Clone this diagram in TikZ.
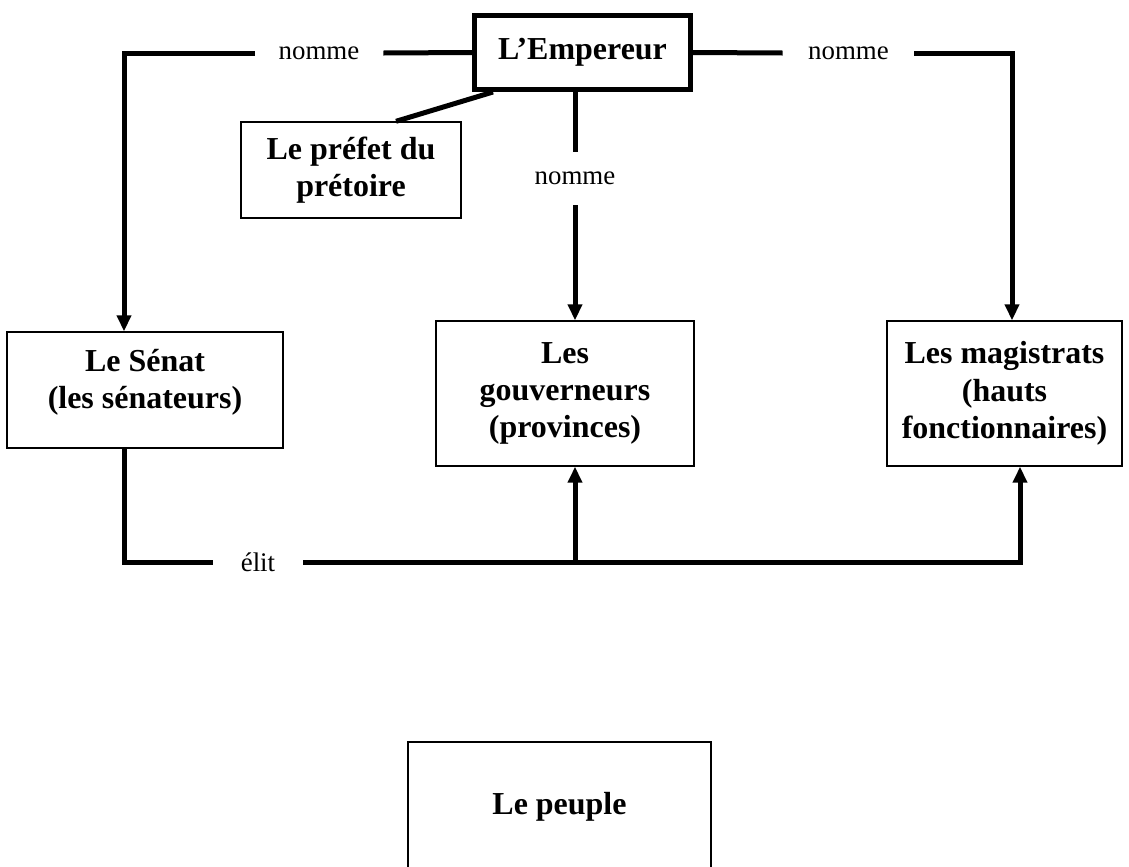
\documentclass[tikz,border=0pt]{standalone}
\usepackage{fontspec}
\setmainfont{Liberation Serif}
\usetikzlibrary{arrows.meta}
\tikzset{
  box/.style   = {draw, line width=0.8pt, fill=white, align=center, inner sep=2pt,
                  font=\fontsize{18.2}{21.3}\selectfont\bfseries},
  chief/.style = {box, line width=0.1cm},
  lbl/.style   = {fill=white, inner sep=0pt, font=\fontsize{15.3}{18}\selectfont},
  link/.style  = {line width=0.1cm},
  arrow/.style = {link, -{Triangle[length=0.32cm, width=0.28cm]}},
}

\begin{document}
\begin{tikzpicture}[x=0.02cm, y=-0.02cm]
  \useasboundingbox (0,0) rectangle (1129,866);
  \clip (0,0) rectangle (1129,866);

  \node[chief, minimum width=4.32cm, minimum height=1.48cm] (emp) at (582.5,52.5) {L’Empereur};
  \node[box, minimum width=4.4cm, minimum height=1.92cm] (prefet) at (351,170) {Le préfet du\\prétoire};
  \node[box, minimum width=5.52cm, minimum height=2.32cm] (senat) at (145,390) {Le Sénat\\(les sénateurs)\\[-0.3cm]};
  \node[box, minimum width=5.16cm, minimum height=2.9cm] (gouv) at (565,393.5) {Les\\gouverneurs\\(provinces)};
  \node[box, minimum width=4.7cm, minimum height=2.9cm] (mag) at (1004.5,393.5) {Les magistrats\\(hauts\\fonctionnaires)};
  \node[box, minimum width=6.06cm, minimum height=2.6cm] (peuple) at (559.5,807) {Le peuple};

  \node[lbl, minimum width=2.56cm] (nommeL) at (319,53) {nomme};
  \node[lbl, minimum width=2.62cm] (nommeR) at (848.5,53) {nomme};
  \node[lbl, minimum height=1.06cm] (nommeM) at (575,178.5) {nomme};
  \node[lbl, minimum width=1.8cm] (elit) at (258,562) {élit};

  \draw[link] (emp.west) -- (nommeL.east);
  \draw[arrow] (nommeL.west) -| ([xshift=-0.42cm]senat.north);
  \draw[link] (emp.east) -- (nommeR.west);
  \draw[arrow] (nommeR.east) -| ([xshift=0.15cm]mag.north);
  \draw[link] (nommeM.north |- emp.south) -- (nommeM.north);
  \draw[arrow] (nommeM.south) -- (nommeM.south |- gouv.north);
  \draw[link] ([xshift=0.42cm]emp.south west) -- ([xshift=0.9cm]prefet.north);

  \draw[link] ([xshift=-0.42cm]senat.south) |- (elit.west);
  \draw[arrow] (elit.east) -| ([xshift=0.31cm]mag.south);
  \draw[arrow] (nommeM.south |- elit.east) -- (nommeM.south |- gouv.south);
\end{tikzpicture}
\end{document}
